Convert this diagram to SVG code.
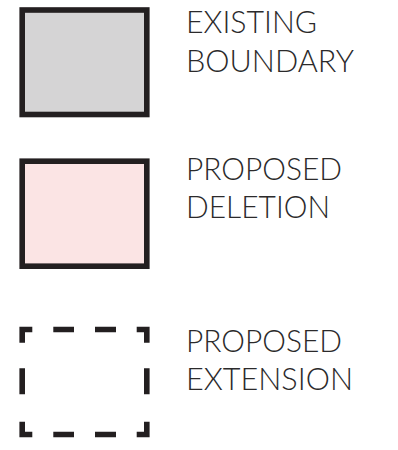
<svg xmlns="http://www.w3.org/2000/svg" width="398" height="450" viewBox="0 0 398 450">
<style>
.box{stroke:#231f20;stroke-width:5.6;stroke-miterlimit:10}
.dash{fill:none;stroke:#231f20;stroke-width:5.6;stroke-linecap:butt;stroke-linejoin:miter}
.lbl{font-family:Lato,"Open Sans","Liberation Sans",sans-serif;font-weight:300;font-size:31px;fill:#2b2a2b}
</style>
<rect width="398" height="450" fill="#ffffff"/>
<g id="existing">
<rect class="box" x="22.2" y="10" width="124.6" height="104.5" fill="#d5d4d5"/>
<text class="lbl" x="186" y="32.7" textLength="131" lengthAdjust="spacingAndGlyphs">EXISTING</text>
<text class="lbl" x="186" y="71.7" textLength="168" lengthAdjust="spacingAndGlyphs">BOUNDARY</text>
</g>
<g id="deletion">
<rect class="box" x="22.2" y="161.2" width="124.6" height="105" fill="#fbe4e4"/>
<text class="lbl" x="186" y="180" textLength="156" lengthAdjust="spacingAndGlyphs">PROPOSED</text>
<text class="lbl" x="186" y="218.3" textLength="144" lengthAdjust="spacingAndGlyphs">DELETION</text>
</g>
<g id="extension">
<path class="dash" d="M32.3,329.5H22.2V342.7M53.3,329.5H74M95,329.5H116M136.7,329.5H146.8V342.7M22.2,368.3V394.3M146.8,368.3V394.3M22.2,421.7V434.5H32.3M53.3,434.5H74M95,434.5H116M136.7,434.5H146.8V421.7"/>
<text class="lbl" x="186" y="351.7" textLength="156" lengthAdjust="spacingAndGlyphs">PROPOSED</text>
<text class="lbl" x="186" y="390" textLength="167" lengthAdjust="spacingAndGlyphs">EXTENSION</text>
</g>
</svg>
